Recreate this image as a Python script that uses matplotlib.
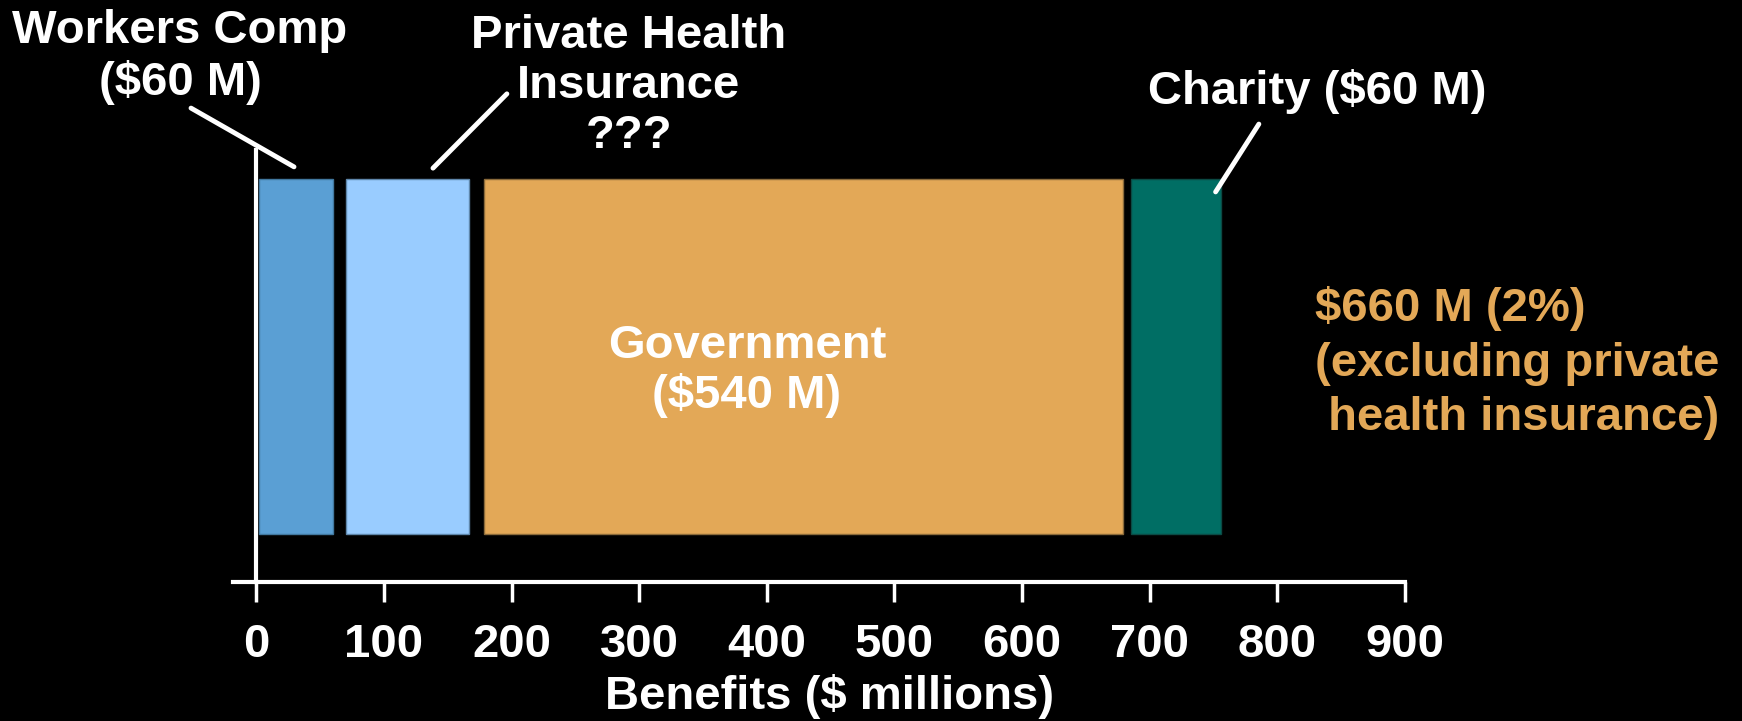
import matplotlib.pyplot as plt

# 1. data

sources = ["Workers Comp", "Private Health Insurance", "Government", "Charity"]
bar_left = [2, 70, 178, 685]
bar_width = [58, 97, 501, 71]
bar_colors = ["#5A9FD4", "#99CCFF", "#E3A857", "#006E64"]
edge_colors = ["#41789F", "#5E86AA", "#8A6A3A", "#0B4A44"]

x_ticks = [0, 100, 200, 300, 400, 500, 600, 700, 800, 900]

# 2. figure and axes

W, H = 1742, 721
fig = plt.figure(figsize=(W / 100, H / 100), dpi=100)
fig.patch.set_facecolor("black")

plt.rcParams["font.family"] = ["Liberation Sans", "DejaVu Sans"]
plt.rcParams["font.weight"] = "bold"

ax = fig.add_axes([233 / W, 1 - 582 / H, (1405 - 233) / W, (582 - 150) / H])
ax.set_facecolor("black")

ax.barh(0.522, bar_width, left=bar_left, height=0.822,
        color=bar_colors, edgecolor=edge_colors, linewidth=1)

ax.set_xlim(-18.3, 900)
ax.set_ylim(0, 1)

for s in ["top", "right"]:
    ax.spines[s].set_visible(False)
ax.spines["left"].set_position(("data", 0))
ax.spines["left"].set_color("white")
ax.spines["left"].set_linewidth(3)
ax.spines["bottom"].set_color("white")
ax.spines["bottom"].set_linewidth(3)
ax.set_yticks([])

ax.set_xticks(x_ticks)
ax.set_xticklabels([str(t) for t in x_ticks])
ax.tick_params(axis="x", colors="white", length=14.4, width=2.5, pad=15,
               labelsize=34)
for lab in ax.get_xticklabels():
    lab.set_fontweight("bold")

ax.set_xlabel("Benefits ($ millions)", color="white", fontsize=34,
              fontweight="bold")
ax.xaxis.set_label_coords((830 - 233) / 1172, -0.266)
ax.xaxis.label.set_verticalalignment("center")

# 3. labels and leader lines

def px(x, y):
    return x / W, 1 - y / H

txt = dict(color="white", fontsize=34, fontweight="bold",
           ha="center", va="center")

fig.text(*px(180, 57), "Workers Comp\n($60 M)", linespacing=1.2, **txt)
fig.text(*px(629, 86), "Private Health\nInsurance\n???", linespacing=1.17, **txt)
fig.text(*px(1317, 92), "Charity ($60 M)", **txt)
fig.text(*px(747, 371), "Government\n($540 M)", linespacing=1.12, **txt)
fig.text(*px(1315, 363), "$660 M (2%)\n(excluding private\n health insurance)",
         color="#E3A857", fontsize=34, fontweight="bold",
         ha="left", va="center", linespacing=1.3)

line = dict(arrowstyle="-", color="white", lw=3.5, shrinkA=0, shrinkB=0)
ax.annotate("", xy=(29.5, 0.961), xytext=(-51.2, 1.097),
            arrowprops=line, annotation_clip=False)
ax.annotate("", xy=(138.4, 0.958), xytext=(196.3, 1.130),
            arrowprops=line, annotation_clip=False)
ax.annotate("", xy=(751.6, 0.903), xytext=(785.5, 1.060),
            arrowprops=line, annotation_clip=False)

fig.savefig("out.png", dpi=100, facecolor="black")
